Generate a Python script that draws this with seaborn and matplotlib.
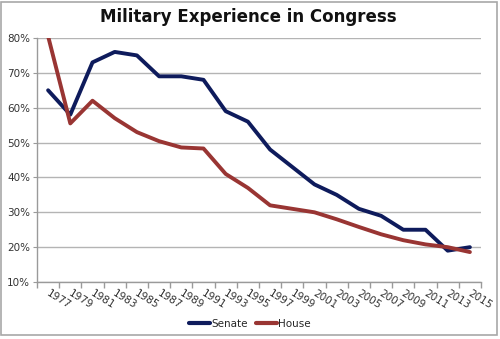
import matplotlib
matplotlib.use("Agg")
import matplotlib.pyplot as plt
import seaborn as sns
import pandas as pd
import numpy as np

years = ["1977", "1979", "1981", "1983", "1985", "1987", "1989", "1991", "1993", "1995",
         "1997", "1999", "2001", "2003", "2005", "2007", "2009", "2011", "2013", "2015"]
senate = [65, 58, 73, 76, 75, 69, 69, 68, 59, 56, 48, 43, 38, 35, 31, 29, 25, 25, 19, 20]
house = [80.5, 55.5, 62, 57, 53, 50.4, 48.6, 48.3, 41, 37, 32, 31, 30, 28, 25.8, 23.7, 22, 20.8, 20, 18.6]
y_ticks = [10, 20, 30, 40, 50, 60, 70, 80]

df = pd.DataFrame({
    "pos": list(range(len(years))) * 2,
    "value": senate + house,
    "chamber": ["Senate"] * len(years) + ["House"] * len(years),
})

sns.set_style("white")
plt.rcParams["font.family"] = ["DejaVu Sans"]

fig = plt.figure(figsize=(5.0, 3.39), dpi=100)
ax = fig.add_axes([0.074, 0.168, 0.888, 0.72])

palette = {"Senate": "#0e1b5c", "House": "#993533"}
sns.lineplot(data=df, x="pos", y="value", hue="chamber", palette=palette,
             linewidth=2.8, ax=ax, legend=False)

ax.set_xlim(-0.5, len(years) - 0.5)
ax.set_ylim(10, 80)
ax.set_yticks(y_ticks)
ax.set_yticklabels([f"{v}%" for v in y_ticks], fontsize=7.5, color="#333333")
ax.yaxis.grid(True, color="#b4b4b4", linewidth=1.0)
ax.set_axisbelow(True)
ax.tick_params(axis="y", left=True, length=3, color="#9a9a9a", pad=2)

# category boundaries get tick marks, labels sit at category centres
ax.set_xticks(np.arange(-0.5, len(years), 1.0))
ax.set_xticklabels([])
ax.tick_params(axis="x", bottom=True, length=4, width=1.0, color="#9a9a9a", direction="out")
for i, lab in enumerate(years):
    ax.text(i - 0.05, 6.9, lab, rotation=-32, rotation_mode="anchor",
            ha="left", va="center", fontsize=7.5, color="#333333",
            transform=ax.transData, clip_on=False)

for side in ["top", "right"]:
    ax.spines[side].set_visible(False)
for side in ["left", "bottom"]:
    ax.spines[side].set_color("#9a9a9a")
    ax.spines[side].set_linewidth(1.0)
ax.set_xlabel("")
ax.set_ylabel("")

fig.suptitle("Military Experience in Congress", x=0.497, y=0.975,
             fontsize=12, fontweight="bold", color="#111111")

handles = [plt.Line2D([], [], color=palette[k], linewidth=3) for k in ["Senate", "House"]]
fig.legend(handles, ["Senate", "House"], loc="center", bbox_to_anchor=(0.5, 0.045),
           ncol=2, frameon=False, fontsize=7.5, handlelength=2.0, handletextpad=0.1,
           columnspacing=0.8)

border = plt.Rectangle((0.002, 0.012), 0.992, 0.983, transform=fig.transFigure,
                       fill=False, edgecolor="#a8a8a8", linewidth=1.2)
fig.patches.append(border)

fig.savefig("out.png", dpi=100)
